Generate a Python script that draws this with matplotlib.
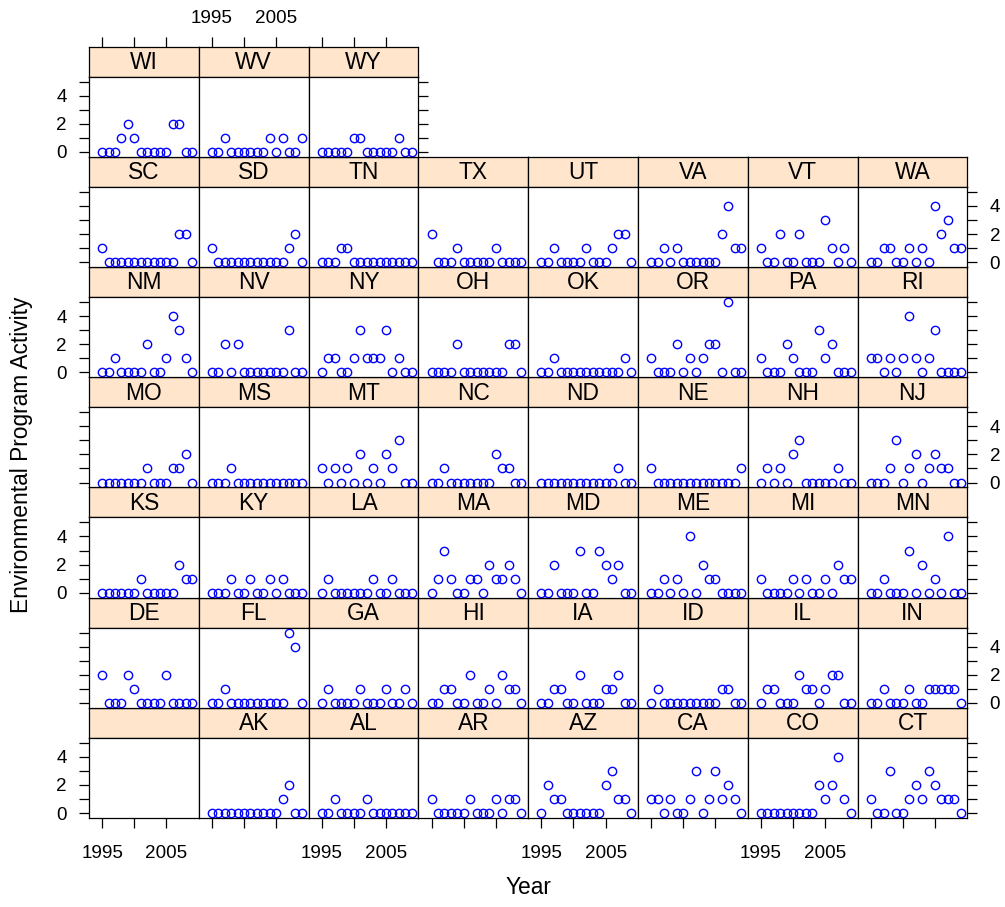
import matplotlib
matplotlib.use("Agg")
import matplotlib.pyplot as plt

plt.rcParams['font.family'] = ['Liberation Sans', 'DejaVu Sans']

years = list(range(1995, 2010))

# panel order as lattice fills it: bottom-left first, left to right
states = ["", "AK", "AL", "AR", "AZ", "CA", "CO", "CT",
          "DE", "FL", "GA", "HI", "IA", "ID", "IL", "IN",
          "KS", "KY", "LA", "MA", "MD", "ME", "MI", "MN",
          "MO", "MS", "MT", "NC", "ND", "NE", "NH", "NJ",
          "NM", "NV", "NY", "OH", "OK", "OR", "PA", "RI",
          "SC", "SD", "TN", "TX", "UT", "VA", "VT", "WA",
          "WI", "WV", "WY"]

AK = [0, 0, 0, 0, 0, 0, 0, 0, 0, 0, 0, 1, 2, 0, 0]
AL = [0, 0, 1, 0, 0, 0, 0, 1, 0, 0, 0, 0, 0, 0, 0]
AR = [1, 0, 0, 0, 0, 0, 1, 0, 0, 0, 1, 0, 1, 1, 0]
AZ = [0, 2, 1, 1, 0, 0, 0, 0, 0, 0, 2, 3, 1, 1, 0]
CA = [1, 1, 0, 1, 0, 0, 1, 3, 0, 1, 3, 1, 2, 1, 0]
CO = [0, 0, 0, 0, 0, 0, 0, 0, 0, 2, 1, 2, 4, 1, 0]
CT = [1, 0, 0, 3, 0, 0, 1, 2, 1, 3, 2, 1, 1, 1, 0]
DE = [2, 0, 0, 0, 2, 1, 0, 0, 0, 0, 2, 0, 0, 0, 0]
FL = [0, 0, 1, 0, 0, 0, 0, 0, 0, 0, 0, 0, 5, 4, 0]
GA = [0, 1, 0, 0, 0, 0, 1, 0, 0, 0, 1, 0, 0, 1, 0]
HI = [0, 0, 1, 1, 0, 0, 2, 0, 0, 1, 0, 2, 1, 1, 0]
IA = [0, 0, 1, 1, 0, 0, 2, 0, 0, 0, 1, 1, 2, 0, 0]
ID = [0, 1, 0, 0, 0, 0, 0, 0, 0, 0, 0, 1, 1, 0, 0]
IL = [0, 1, 1, 0, 0, 0, 2, 1, 1, 0, 1, 2, 2, 0, 0]
IN = [0, 0, 1, 0, 0, 0, 1, 0, 0, 1, 1, 1, 1, 1, 0]
KS = [0, 0, 0, 0, 0, 0, 1, 0, 0, 0, 0, 0, 2, 1, 1]
KY = [0, 0, 0, 1, 0, 0, 1, 0, 0, 1, 0, 1, 0, 0, 0]
LA = [0, 1, 0, 0, 0, 0, 0, 0, 1, 0, 0, 1, 0, 0, 0]
MA = [0, 1, 3, 1, 0, 0, 1, 1, 0, 2, 1, 1, 2, 1, 0]
MD = [0, 0, 2, 0, 0, 0, 3, 0, 0, 3, 2, 1, 2, 0, 0]
ME = [0, 0, 1, 0, 1, 0, 4, 0, 2, 1, 1, 0, 0, 0, 0]
MI = [1, 0, 0, 0, 0, 1, 0, 1, 0, 0, 1, 0, 2, 1, 1]
MN = [0, 0, 1, 0, 0, 0, 3, 0, 2, 0, 1, 0, 4, 0, 0]
MO = [0, 0, 0, 0, 0, 0, 0, 1, 0, 0, 0, 1, 1, 2, 0]
MS = [0, 0, 0, 1, 0, 0, 0, 0, 0, 0, 0, 0, 0, 0, 0]
MT = [1, 0, 1, 0, 1, 0, 2, 0, 1, 0, 2, 1, 3, 0, 0]
NC = [0, 0, 1, 0, 0, 0, 0, 0, 0, 0, 2, 1, 1, 0, 0]
ND = [0, 0, 0, 0, 0, 0, 0, 0, 0, 0, 0, 0, 1, 0, 0]
NE = [1, 0, 0, 0, 0, 0, 0, 0, 0, 0, 0, 0, 0, 0, 1]
NH = [0, 1, 0, 1, 0, 2, 3, 0, 0, 0, 0, 0, 1, 0, 0]
NJ = [0, 0, 0, 1, 3, 0, 1, 2, 0, 1, 2, 1, 1, 0, 0]
NM = [0, 0, 1, 0, 0, 0, 0, 2, 0, 0, 1, 4, 3, 1, 0]
NV = [0, 0, 2, 0, 2, 0, 0, 0, 0, 0, 0, 0, 3, 0, 0]
NY = [0, 1, 1, 0, 0, 1, 3, 1, 1, 1, 3, 0, 1, 0, 0]
OH = [0, 0, 0, 0, 2, 0, 0, 0, 0, 0, 0, 0, 2, 2, 0]
OK = [0, 0, 1, 0, 0, 0, 0, 0, 0, 0, 0, 0, 0, 1, 0]
OR = [1, 0, 0, 0, 2, 0, 1, 0, 1, 2, 2, 0, 5, 0, 0]
PA = [1, 0, 0, 0, 2, 1, 0, 0, 0, 3, 1, 2, 0, 0, 0]
RI = [1, 1, 0, 1, 0, 1, 4, 1, 0, 1, 3, 0, 0, 0, 0]
SC = [1, 0, 0, 0, 0, 0, 0, 0, 0, 0, 0, 0, 2, 2, 0]
SD = [1, 0, 0, 0, 0, 0, 0, 0, 0, 0, 0, 0, 1, 2, 0]
TN = [0, 0, 0, 1, 1, 0, 0, 0, 0, 0, 0, 0, 0, 0, 0]
TX = [2, 0, 0, 0, 1, 0, 0, 0, 0, 0, 1, 0, 0, 0, 0]
UT = [0, 0, 1, 0, 0, 0, 0, 1, 0, 0, 0, 1, 2, 2, 0]
VA = [0, 0, 1, 0, 1, 0, 0, 0, 0, 0, 0, 2, 4, 1, 1]
VT = [1, 0, 0, 2, 0, 0, 2, 0, 0, 0, 3, 1, 0, 1, 0]
WA = [0, 0, 1, 1, 0, 0, 1, 0, 1, 0, 4, 2, 3, 1, 1]
WI = [0, 0, 0, 1, 2, 1, 0, 0, 0, 0, 0, 2, 2, 0, 0]
WV = [0, 0, 1, 0, 0, 0, 0, 0, 0, 1, 0, 1, 0, 0, 1]
WY = [0, 0, 0, 0, 0, 1, 1, 0, 0, 0, 0, 0, 1, 0, 0]

series = {s: globals()[s] for s in states if s}

x_ticks = [1995, 2000, 2005]
x_ticklabels = ["1995", "", "2005"]
y_ticks = [0, 1, 2, 3, 4, 5]
y_ticklabels = ["0", "", "2", "", "4", ""]

W, H = 1005, 907
fig = plt.figure(figsize=(W / 100, H / 100), dpi=100)

ncol, nrow = 8, 7
left, top = 89.0, 46.7
colw = 109.8
rowh = 110.19
striph = 30.0
panelh = rowh - striph
xlim = (1992.95, 2010.05)
ylim = (-0.35, 5.35)

tick_len = 7.5
tick_pad = 8.5
top_pad = 6.5
bottom_pad = 12.0
tick_fs = 13.6
strip_fs = 16.4
lw = 0.9


def rect(x, y, w, h):
    return [x / W, (H - y - h) / H, w / W, h / H]


for i, st in enumerate(states):
    rb = i // ncol
    col = i % ncol
    rt = nrow - 1 - rb
    x0 = left + col * colw
    y0 = top + rt * rowh
    last_in_row = (col == ncol - 1) or (i == len(states) - 1)

    # strip
    sax = fig.add_axes(rect(x0, y0, colw, striph))
    sax.set_facecolor("#ffe5cc")
    sax.set_xlim(xlim)
    sax.set_ylim(0, 1)
    sax.set_yticks([])
    for sp in sax.spines.values():
        sp.set_linewidth(lw)
    sax.text(0.5, 0.47, st, transform=sax.transAxes, ha="center", va="center",
             fontsize=strip_fs)
    if rt == 0:
        sax.set_xticks(x_ticks)
        sax.set_xticklabels(x_ticklabels)
        sax.tick_params(axis="x", top=True, bottom=False, labelbottom=False,
                        labeltop=(col % 2 == 1), length=tick_len, width=lw,
                        pad=top_pad, labelsize=tick_fs, direction="out")
    else:
        sax.set_xticks([])

    # panel
    ax = fig.add_axes(rect(x0, y0 + striph, colw, panelh))
    ax.set_xlim(xlim)
    ax.set_ylim(ylim)
    for sp in ax.spines.values():
        sp.set_linewidth(lw)
    if st:
        ax.plot(years, series[st], "o", mfc="none", mec="blue", ms=6.0, mew=1.0)

    ax.set_xticks(x_ticks)
    ax.set_xticklabels(x_ticklabels)
    ax.tick_params(axis="x", bottom=(rb == 0), labelbottom=(rb == 0 and col % 2 == 0),
                   top=False, labeltop=False, length=tick_len, width=lw,
                   pad=bottom_pad, labelsize=tick_fs, direction="out")
    ax.set_yticks(y_ticks)
    ax.set_yticklabels(y_ticklabels)
    ax.tick_params(axis="y", left=(col == 0), labelleft=(col == 0 and rt % 2 == 0),
                   right=last_in_row, labelright=(last_in_row and rt % 2 == 1),
                   length=tick_len, width=lw, pad=tick_pad, labelsize=tick_fs,
                   direction="out")

fig.text(528 / W, 1 - 888 / H, "Year", ha="center", va="center", fontsize=strip_fs)
fig.text(22 / W, 1 - 455 / H, "Environmental Program Activity", ha="center",
         va="center", rotation=90, fontsize=strip_fs)

fig.savefig("out.png", dpi=100)
